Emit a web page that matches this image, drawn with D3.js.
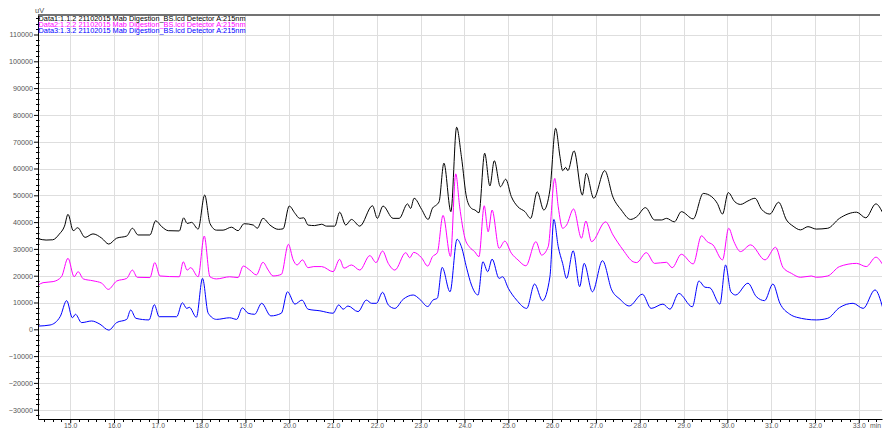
<!DOCTYPE html>
<html>
<head>
<meta charset="utf-8">
<script src="https://cdn.jsdelivr.net/npm/d3@7"></script>
<style>
  body { margin: 0; background: #fff; }
  svg { display: block; font-family: Arial, "Liberation Sans", sans-serif; }
  .axis text { fill: #555; font-size: 7.2px; }
  .axis.xaxis text { font-size: 6.8px; }
  .axis path, .axis line { stroke: #000; }
  .grid line { stroke: #dedede; stroke-width: 1; }
</style>
</head>
<body>
<svg id="chrom"></svg>
<script>
// retention time (min), signal (uV)
const data1 = [[14.27,33800],[14.45,33300],[14.6,33400],[14.75,35500],[14.87,38500],[14.95,42900],[15.07,36800],[15.17,37900],[15.34,34300],[15.52,35600],[15.72,34000],[15.88,31800],[16.06,34000],[16.29,34800],[16.42,37700],[16.55,35200],[16.82,35200],[16.95,40500],[17.09,38300],[17.24,36800],[17.49,36700],[17.59,41600],[17.67,39500],[17.77,39900],[17.92,37400],[18.07,50100],[18.19,39500],[18.34,37000],[18.49,37000],[18.68,38100],[18.83,36800],[18.97,39400],[19.18,38900],[19.27,37700],[19.4,41400],[19.56,38900],[19.75,37300],[19.86,37500],[20.0,46000],[20.13,43300],[20.24,41400],[20.33,41600],[20.43,38900],[20.58,38700],[20.74,39200],[20.85,38500],[21.04,38500],[21.15,43700],[21.29,38900],[21.42,41000],[21.61,38500],[21.9,46100],[22.01,41400],[22.14,46000],[22.37,41400],[22.51,41400],[22.7,46800],[22.77,45100],[22.85,48900],[23.02,44800],[23.17,41000],[23.27,45200],[23.36,46400],[23.42,47600],[23.53,62000],[23.69,43900],[23.82,75400],[23.93,64400],[24.05,48900],[24.16,45100],[24.24,44500],[24.33,43500],[24.46,65700],[24.58,53500],[24.68,62900],[24.82,53200],[24.94,56000],[25.07,49500],[25.22,45700],[25.38,43900],[25.51,41400],[25.66,51300],[25.81,44500],[25.95,52000],[26.08,75000],[26.18,64400],[26.24,59200],[26.31,60400],[26.36,59200],[26.5,66600],[26.69,50100],[26.78,58200],[26.95,48900],[27.2,59200],[27.39,49300],[27.58,44500],[27.79,41000],[27.93,42000],[28.13,45400],[28.34,40800],[28.5,40800],[28.61,41400],[28.79,40100],[28.95,43900],[29.22,41200],[29.45,50700],[29.64,49500],[29.77,47000],[29.89,43000],[30.02,51000],[30.17,47600],[30.3,46600],[30.47,47900],[30.63,48900],[30.78,44800],[30.97,43000],[31.17,47400],[31.35,40800],[31.5,38500],[31.67,37100],[31.84,38300],[32.03,37400],[32.29,37700],[32.56,41400],[32.95,43700],[33.16,41600],[33.39,46800],[33.55,43300]];

const data2 = [[14.27,16500],[14.38,17400],[14.61,17800],[14.8,19600],[14.95,26500],[15.09,19600],[15.18,21500],[15.3,18800],[15.52,18100],[15.72,17200],[15.87,14900],[16.06,18000],[16.29,19000],[16.42,22100],[16.53,19400],[16.82,19300],[16.93,24900],[17.05,19900],[17.49,19600],[17.58,25200],[17.67,22100],[17.75,23000],[17.92,19600],[18.06,34800],[18.19,19600],[18.34,18800],[18.64,19600],[18.83,19300],[18.95,23600],[19.1,22100],[19.25,20300],[19.4,25000],[19.52,22100],[19.63,19900],[19.82,20500],[19.98,31700],[20.09,25900],[20.18,24000],[20.3,25900],[20.43,23000],[20.56,23400],[20.74,23400],[21.0,21500],[21.15,26100],[21.25,22800],[21.42,24000],[21.61,22100],[21.84,27500],[21.98,24900],[22.13,29200],[22.26,24600],[22.41,22100],[22.66,28600],[22.75,26700],[22.84,28700],[23.02,26700],[23.16,23600],[23.27,27100],[23.38,28600],[23.51,42500],[23.68,27200],[23.8,58000],[23.89,45700],[24.01,34000],[24.12,30600],[24.23,29000],[24.33,27100],[24.45,46100],[24.54,36400],[24.63,44500],[24.79,30200],[24.92,32900],[25.07,28400],[25.22,25900],[25.4,23700],[25.63,32700],[25.76,27700],[25.91,30800],[26.06,56300],[26.14,45700],[26.24,37700],[26.33,38900],[26.49,44900],[26.67,34000],[26.77,40400],[26.9,32700],[27.22,40100],[27.39,35200],[27.62,29600],[27.85,25200],[27.93,24900],[28.15,28600],[28.34,24600],[28.61,25000],[28.74,23000],[28.95,28000],[29.22,24400],[29.41,34900],[29.54,32700],[29.67,31500],[29.89,25900],[30.03,37700],[30.15,32700],[30.3,29000],[30.53,31500],[30.86,25900],[31.1,30600],[31.27,23100],[31.46,20900],[31.67,19400],[31.92,19900],[32.03,19400],[32.29,19900],[32.56,23400],[32.95,24600],[33.17,23400],[33.39,26900],[33.55,24000]];

const data3 = [[14.27,1200],[14.54,1600],[14.77,4700],[14.92,10700],[15.05,4300],[15.12,5600],[15.26,2500],[15.49,3100],[15.68,1900],[15.88,-300],[16.06,2500],[16.29,3700],[16.38,7200],[16.5,4100],[16.8,3500],[16.92,9200],[17.03,4700],[17.43,4700],[17.56,9900],[17.66,7800],[17.72,8200],[17.88,4500],[18.02,19000],[18.15,6000],[18.34,3700],[18.64,4300],[18.8,3700],[18.93,8000],[19.06,6000],[19.21,5600],[19.37,9700],[19.58,5000],[19.82,6000],[19.96,14000],[20.13,9400],[20.29,10900],[20.43,7500],[20.7,6900],[21.0,6000],[21.13,9100],[21.23,7500],[21.34,8700],[21.57,6600],[21.76,10900],[21.88,9700],[21.99,9700],[22.13,13800],[22.26,9100],[22.41,7800],[22.6,11200],[22.83,12800],[22.98,11200],[23.16,8500],[23.28,10900],[23.38,11600],[23.49,23100],[23.67,14000],[23.83,33600],[23.93,30800],[24.05,22800],[24.16,16500],[24.31,12800],[24.42,25200],[24.53,21500],[24.63,26200],[24.79,19000],[24.87,19600],[25.0,15300],[25.19,10900],[25.42,7800],[25.6,16900],[25.78,10700],[25.95,19600],[26.04,41000],[26.14,30800],[26.24,24600],[26.33,19000],[26.48,29300],[26.63,15900],[26.73,24600],[26.92,14000],[27.15,25600],[27.36,14700],[27.55,11200],[27.76,8700],[28.06,13100],[28.26,7800],[28.53,9400],[28.69,7500],[28.89,13400],[29.2,8400],[29.35,18000],[29.49,15700],[29.6,15500],[29.83,9400],[29.96,24000],[30.08,14000],[30.19,12800],[30.47,17200],[30.66,12200],[30.85,10700],[31.04,16900],[31.2,9700],[31.42,5700],[31.58,4500],[32.03,3500],[32.29,4100],[32.56,8100],[32.87,9700],[33.1,7800],[33.37,14700],[33.55,7800]];

const legendLabels = [
  "Data1:1.1.2 21102015 Mab Digestion_BS.lcd Detector A:215nm",
  "Data2:1.2.2 21102015 Mab Digestion_BS.lcd Detector A:215nm",
  "Data3:1.3.2 21102015 Mab Digestion_BS.lcd Detector A:215nm"
];
const lineColors = ["#000000", "#ff00ff", "#0000ff"];
const yTicks = d3.range(-30000, 110001, 10000);
const xTicks = d3.range(15, 33.001, 1);

const margin = {top: 15, right: 1, bottom: 10, left: 38},
  width = 883 - margin.left - margin.right,
  height = 429 - margin.top - margin.bottom;

const svgRoot = d3.select("#chrom")
  .attr("width", 883)
  .attr("height", 429);
const svg = svgRoot.append("g")
  .attr("transform", "translate(" + margin.left + "," + margin.top + ")");

const x = d3.scaleLinear()
  .domain([14.265, 33.53])
  .range([0, width]);
const y = d3.scaleLinear()
  .domain([-33470, 117280])
  .range([height, 0]);

// grid
const grid = svg.append("g").attr("class", "grid");
grid.selectAll(".gx")
  .data(xTicks)
  .join("line")
    .attr("x1", d => Math.round(x(d)) + 0.5)
    .attr("x2", d => Math.round(x(d)) + 0.5)
    .attr("y1", 0)
    .attr("y2", height);
grid.selectAll(".gy")
  .data(yTicks)
  .join("line")
    .attr("y1", d => Math.round(y(d)) + 0.5)
    .attr("y2", d => Math.round(y(d)) + 0.5)
    .attr("x1", 0)
    .attr("x2", width);

// traces
svg.append("clipPath").attr("id", "plotClip")
  .append("rect").attr("width", width).attr("height", height);

const line = d3.line()
  .x(d => x(d[0]))
  .y(d => y(d[1]))
  .curve(d3.curveMonotoneX);

svg.append("g")
  .attr("clip-path", "url(#plotClip)")
  .selectAll("path")
  .data([data1, data2, data3])
  .join("path")
    .attr("fill", "none")
    .attr("stroke", (d, i) => lineColors[i])
    .attr("stroke-width", 1)
    .attr("d", line);

// y axis with minor ticks
const yMinor = d3.range(-32000, 116001, 2000).filter(v => v % 10000 !== 0);
svg.append("g")
  .selectAll("line")
  .data(yMinor)
  .join("line")
    .attr("x1", -2)
    .attr("x2", 1.5)
    .attr("y1", d => Math.round(y(d)) + 0.5)
    .attr("y2", d => Math.round(y(d)) + 0.5)
    .attr("stroke", "#000");

svg.append("g")
  .attr("class", "axis")
  .call(d3.axisLeft(y)
    .tickValues(yTicks)
    .tickSize(4)
    .tickSizeOuter(0)
    .tickPadding(1)
    .tickFormat(d3.format("d")));

// x axis with minor ticks
const xMinor = d3.range(14.4, 33.5, 0.2).filter(v => Math.abs(v - Math.round(v)) > 0.01);
svg.append("g")
  .selectAll("line")
  .data(xMinor)
  .join("line")
    .attr("x1", d => Math.round(x(d)) + 0.5)
    .attr("x2", d => Math.round(x(d)) + 0.5)
    .attr("y1", height)
    .attr("y2", height + 3)
    .attr("stroke", "#000");

svg.append("g")
  .attr("class", "axis xaxis")
  .attr("transform", "translate(0," + height + ")")
  .call(d3.axisBottom(x)
    .tickValues(xTicks)
    .tickSize(4)
    .tickSizeOuter(0)
    .tickPadding(0)
    .tickFormat(d3.format(".1f")));

// top frame
svg.append("line")
  .attr("x1", 0)
  .attr("x2", width - 2)
  .attr("y1", 0)
  .attr("y2", 0)
  .attr("stroke", "#444")
  .attr("stroke-width", 1.5);

// unit labels
svgRoot.append("text")
  .attr("x", 35)
  .attr("y", 13)
  .attr("fill", "#555")
  .style("font-size", "7.5px")
  .text("uV");
svgRoot.append("text")
  .attr("x", 870)
  .attr("y", 428)
  .attr("fill", "#555")
  .style("font-size", "6.8px")
  .text("min");

// legend
svgRoot.append("g")
  .selectAll("text")
  .data(legendLabels)
  .join("text")
    .attr("x", 38.5)
    .attr("y", (d, i) => 20.5 + 6.3 * i)
    .attr("fill", (d, i) => lineColors[i])
    .attr("textLength", 207)
    .attr("lengthAdjust", "spacingAndGlyphs")
    .style("font-size", "6.6px")
    .text(d => d);
</script>
</body>
</html>
